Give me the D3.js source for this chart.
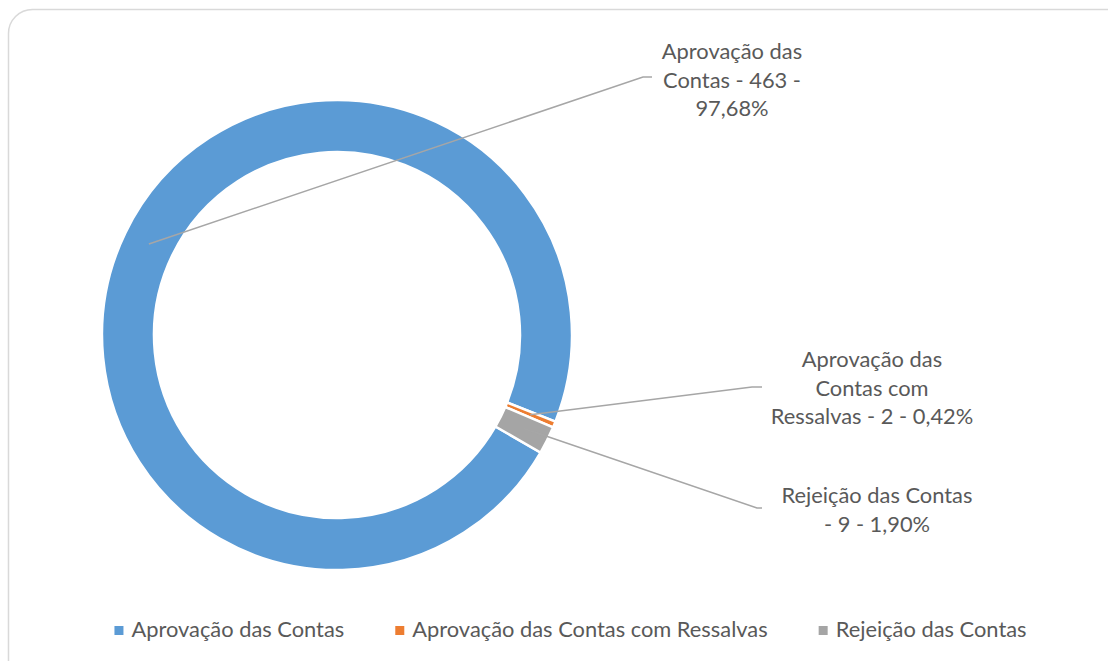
<!DOCTYPE html>
<html>
<head>
<meta charset="utf-8">
<script src="https://cdn.jsdelivr.net/npm/d3@7"></script>
<style>
  body { margin: 0; background: #fff; }
  svg { display: block; }
</style>
</head>
<body>
<div id="chart"></div>
<script>
// data
const categories = ["Aprovação das Contas", "Aprovação das Contas com Ressalvas", "Rejeição das Contas"];
const values = [463, 2, 9];
const percentLabels = ["97,68%", "0,42%", "1,90%"];
const labelLines = [
  ["Aprovação das", "Contas - 463 -", "97,68%"],
  ["Aprovação das", "Contas com", "Ressalvas - 2 - 0,42%"],
  ["Rejeição das Contas", "- 9 - 1,90%"]
];
const colors = ["#5B9BD5", "#ED7D31", "#A5A5A5"];

const width = 1108, height = 661;
const cx = 337, cy = 335;
const outerR = 235, innerR = 183;
const fontFamily = "Lato, 'Open Sans', sans-serif";
const textColor = "#595959";

// label layout: center x, first baseline, elbow + end of leader line
const labelPos = [
  {x: 732, y: 59, elbow: [643, 77], end: [652, 77]},
  {x: 872, y: 367, elbow: [752, 387], end: [762, 387]},
  {x: 877, y: 503, elbow: [757, 508], end: [762, 508]}
];
const lineHeight = 28.7;

let svg = d3.select("#chart")
  .append("svg")
    .attr("width", width)
    .attr("height", height)
    .style("font-family", fontFamily);

// frame
svg.append("rect")
  .attr("x", 8.5).attr("y", 9.5)
  .attr("width", 1130).attr("height", 680)
  .attr("rx", 24).attr("ry", 24)
  .attr("fill", "#fff")
  .attr("stroke", "#D9D9D9")
  .attr("stroke-width", 1.5);

// fit font size so "Rejeição das Contas" is about 191px wide
let probe = svg.append("text").attr("font-size", 100).text("Rejeição das Contas");
let fontSize = 191 / probe.node().getComputedTextLength() * 100;
probe.remove();

let data = categories.map((c, i) => ({name: c, value: values[i], color: colors[i]}));

let pie = d3.pie()
  .value(d => d.value)
  .sort(null)
  .startAngle(Math.PI * 2 / 3)
  .endAngle(Math.PI * 2 / 3 + Math.PI * 2);
let data_ready = pie(data);

let arcGenerator = d3.arc()
  .innerRadius(innerR)
  .outerRadius(outerR);

let g = svg.append("g")
  .attr("transform", "translate(" + cx + "," + cy + ")");

g.selectAll("path.slice")
  .data(data_ready)
  .enter()
  .append("path")
    .attr("class", "slice")
    .attr("d", arcGenerator)
    .attr("fill", d => d.data.color)
    .attr("stroke", "#fff")
    .attr("stroke-width", 2.5);

// leader lines
data_ready.forEach((d, i) => {
  let c = arcGenerator.centroid(d);
  let p = labelPos[i];
  svg.append("polyline")
    .attr("points", [[c[0] + cx, c[1] + cy], p.elbow, p.end].map(q => q.join(",")).join(" "))
    .attr("fill", "none")
    .attr("stroke", "#A6A6A6")
    .attr("stroke-width", 1.5);
});

// data labels
labelLines.forEach((lines, i) => {
  let t = svg.append("text")
    .attr("text-anchor", "middle")
    .attr("font-size", fontSize)
    .attr("fill", textColor);
  lines.forEach((l, j) => {
    t.append("tspan")
      .attr("x", labelPos[i].x)
      .attr("y", labelPos[i].y + j * lineHeight)
      .text(l);
  });
});

// legend
let legend = svg.append("g");
let sq = 9, pad = 8, gap = 51;
let items = categories.map(c => {
  let t = legend.append("text")
    .attr("font-size", fontSize)
    .attr("fill", textColor)
    .attr("y", 637)
    .text(c);
  return {t, w: t.node().getComputedTextLength()};
});
let total = d3.sum(items, d => d.w) + items.length * (sq + pad) + (items.length - 1) * gap;
let x = 570.5 - total / 2;
items.forEach((it, i) => {
  legend.append("rect")
    .attr("x", x).attr("y", 626)
    .attr("width", sq).attr("height", sq)
    .attr("fill", colors[i]);
  it.t.attr("x", x + sq + pad);
  x += sq + pad + it.w + gap;
});
</script>
</body>
</html>
